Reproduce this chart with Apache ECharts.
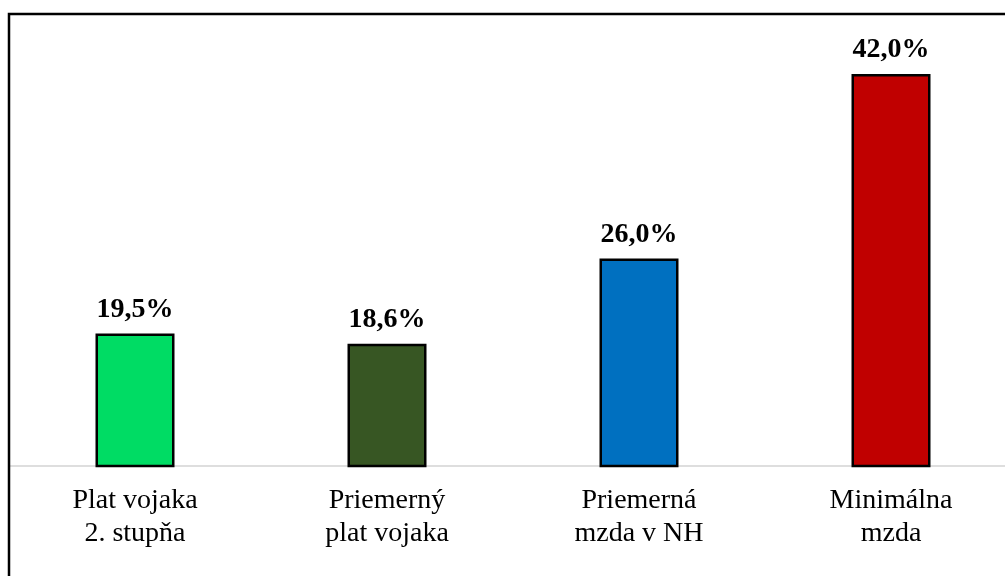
<!DOCTYPE html>
<html>
<head>
<meta charset="utf-8">
<script src="https://cdn.jsdelivr.net/npm/echarts@6/dist/echarts.min.js"></script>
<style>
  html, body { margin: 0; padding: 0; background: #fff; overflow: hidden; }
  #chart { width: 1020px; height: 576px; }
</style>
</head>
<body>
<div id="chart"></div>
<script>
// Categories and percentage values
const categories = ['Plat vojaka\n2. stupňa', 'Priemerný\nplat vojaka', 'Priemerná\nmzda v NH', 'Minimálna\nmzda'];
const values = [19.5, 18.6, 26.0, 42.0];
const barColors = ['#00DC64', '#375623', '#0070C0', '#C00000'];

const chart = echarts.init(document.getElementById('chart'));

chart.setOption({
  backgroundColor: '#ffffff',
  animation: false,
  textStyle: { fontFamily: '"Liberation Serif", "Times New Roman", serif' },
  graphic: [
    {
      type: 'rect',
      shape: { x: 9, y: 14, width: 1100, height: 700 },
      style: { fill: 'none', stroke: '#000000', lineWidth: 2.5 },
      z: 10
    }
  ],
  grid: { left: 9, top: 74, width: 1008, bottom: 110, containLabel: false },
  xAxis: {
    type: 'category',
    data: categories,
    axisLine: { show: true, lineStyle: { color: '#dedede', width: 2 } },
    axisTick: { show: false },
    axisLabel: {
      color: '#000000',
      fontSize: 28,
      lineHeight: 33,
      margin: 18,
      interval: 0,
      fontFamily: '"Liberation Serif", "Times New Roman", serif'
    }
  },
  yAxis: {
    type: 'value',
    min: 8,
    max: 42,
    show: false,
    splitLine: { show: false }
  },
  series: [
    {
      type: 'bar',
      barWidth: 79,
      data: values.map((v, i) => ({
        value: v,
        itemStyle: { color: barColors[i], borderColor: '#000000', borderWidth: 2.5 }
      })),
      label: {
        show: true,
        position: 'top',
        distance: 10,
        color: '#000000',
        fontSize: 28,
        fontWeight: 'bold',
        fontFamily: '"Liberation Serif", "Times New Roman", serif',
        formatter: (p) => p.value.toFixed(1).replace('.', ',') + '%'
      }
    }
  ]
});
</script>
</body>
</html>
